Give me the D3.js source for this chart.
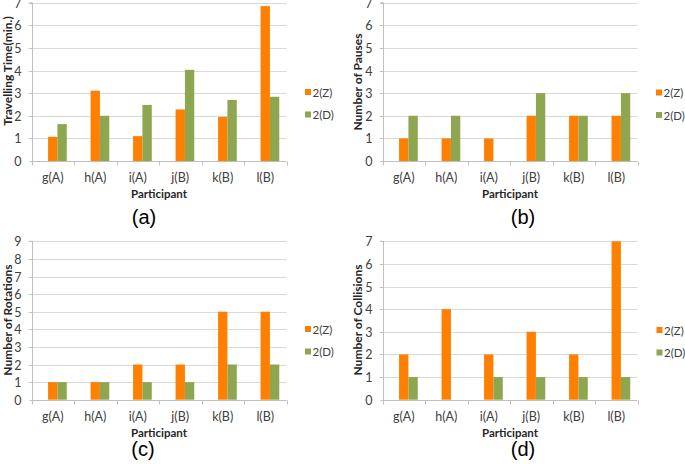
<!DOCTYPE html>
<html>
<head>
<meta charset="utf-8">
<script src="https://cdn.jsdelivr.net/npm/d3@7/dist/d3.min.js"></script>
<style>
  html, body { margin: 0; padding: 0; background: #fff; }
  svg { display: block; }
</style>
</head>
<body>
<svg id="chart" width="685" height="464"></svg>
<script>
// ---------------- DATA ----------------
const participants = ["g(A)", "h(A)", "i(A)", "j(B)", "k(B)", "l(B)"];
const seriesNames = ["2(Z)", "2(D)"];

const travelZ = [1.07, 3.11, 1.10, 2.28, 1.95, 6.85];
const travelD = [1.63, 2.00, 2.48, 4.03, 2.70, 2.84];

const pausesZ = [1, 1, 1, 2, 2, 2];
const pausesD = [2, 2, 0, 3, 2, 3];

const rotationsZ = [1, 1, 2, 2, 5, 5];
const rotationsD = [1, 1, 1, 1, 2, 2];

const collisionsZ = [2, 4, 2, 3, 2, 7];
const collisionsD = [1, 0, 1, 1, 1, 1];

const ticks0to7 = [0, 1, 2, 3, 4, 5, 6, 7];
const ticks0to9 = [0, 1, 2, 3, 4, 5, 6, 7, 8, 9];

const yTitles = ["Travelling Time(min.)", "Number of Pauses", "Number of Rotations", "Number of Collisions"];
const xTitle = "Participant";
const captions = ["(a)", "(b)", "(c)", "(d)"];

// ---------------- LAYOUT ----------------
const colors = { "2(Z)": "#FF8000", "2(D)": "#8DA64F" };

const panels = [
  { z: travelZ, d: travelD, ticks: ticks0to7, ymax: 7, title: yTitles[0], cap: captions[0],
    left: 31.5, right: 286.5, top: 2.7, bottom: 161, titleX: 7, titleY: 71, capX: 144, capY: 224,
    legX: 305, legY: 92 },
  { z: pausesZ, d: pausesD, ticks: ticks0to7, ymax: 7, title: yTitles[1], cap: captions[1],
    left: 382.5, right: 637.5, top: 2.7, bottom: 161, titleX: 357, titleY: 82, capX: 523, capY: 224,
    legX: 656, legY: 92.5 },
  { z: rotationsZ, d: rotationsD, ticks: ticks0to9, ymax: 9, title: yTitles[2], cap: captions[2],
    left: 31.5, right: 286.5, top: 241.3, bottom: 399.7, titleX: 7, titleY: 320, capX: 143, capY: 456,
    legX: 305, legY: 329 },
  { z: collisionsZ, d: collisionsD, ticks: ticks0to7, ymax: 7, title: yTitles[3], cap: captions[3],
    left: 382.5, right: 637.5, top: 241.3, bottom: 399.7, titleX: 357, titleY: 320, capX: 523, capY: 456,
    legX: 656.5, legY: 330 }
];

const svg = d3.select("#chart");
const tickFont = "Lato, 'Open Sans', sans-serif";

panels.forEach(p => {
  const g = svg.append("g");
  const x = d3.scaleBand().domain(participants).range([p.left, p.right]).paddingInner(0).paddingOuter(0);
  const y = d3.scaleLinear().domain([0, p.ymax]).range([p.bottom, p.top]);
  const bw = x.bandwidth();
  const xs = d3.scaleBand().domain(seriesNames).range([0.39 * bw, 0.83 * bw]).padding(0);

  // gridlines (with small outside ticks on the left)
  g.append("g").selectAll("line").data(p.ticks.filter(t => t > 0)).join("line")
    .attr("x1", p.left - 3).attr("x2", p.right)
    .attr("y1", d => Math.round(y(d)) + 0.5).attr("y2", d => Math.round(y(d)) + 0.5)
    .attr("stroke", "#d9d9d9").attr("stroke-width", 1);

  // bars
  const rows = participants.map((name, i) => ({ name, vals: [p.z[i], p.d[i]] }));
  g.append("g").selectAll("g").data(rows).join("g")
    .attr("transform", d => `translate(${x(d.name)},0)`)
    .selectAll("rect").data(d => d.vals.map((v, k) => ({ s: seriesNames[k], v })))
    .join("rect")
    .attr("x", d => xs(d.s)).attr("width", xs.bandwidth())
    .attr("y", d => y(d.v)).attr("height", d => y(0) - y(d.v))
    .attr("fill", d => colors[d.s]);

  // y axis
  const yAxis = d3.axisLeft(y).tickValues(p.ticks).tickSize(3).tickPadding(8).tickFormat(d3.format("d"));
  const ya = g.append("g").attr("transform", `translate(${Math.round(p.left) + 0.5},0)`).call(yAxis);
  ya.select(".domain").attr("stroke", "#bfbfbf").attr("d", `M-3,${p.top}H0V${Math.round(p.bottom) + 0.5}`);
  ya.selectAll(".tick line").attr("stroke", "#bfbfbf");
  ya.selectAll(".tick text").attr("font-family", tickFont).attr("font-size", 12.5).attr("fill", "#404040");
  ya.selectAll(".tick").attr("transform", d => `translate(0,${Math.round(y(d)) + 0.5})`);

  // x axis
  const xa = g.append("g").attr("transform", `translate(0,${Math.round(p.bottom) + 0.5})`);
  const bounds = participants.map(n => x(n)).concat([p.right]);
  xa.append("line").attr("x1", p.left).attr("x2", p.right).attr("stroke", "#bfbfbf");
  xa.selectAll("line.tk").data(bounds).join("line").attr("class", "tk")
    .attr("x1", d => Math.round(d) + 0.5).attr("x2", d => Math.round(d) + 0.5)
    .attr("y1", 0).attr("y2", 4).attr("stroke", "#bfbfbf");
  xa.selectAll("text").data(participants).join("text")
    .attr("x", d => x(d) + bw / 2).attr("y", 20.5)
    .attr("text-anchor", "middle")
    .attr("font-family", tickFont).attr("font-size", 12.5).attr("fill", "#404040")
    .text(d => d);

  // x title
  g.append("text").attr("x", (p.left + p.right) / 2).attr("y", p.bottom + 37)
    .attr("text-anchor", "middle").attr("font-family", tickFont).attr("font-weight", "bold")
    .attr("font-size", 11.5).attr("fill", "#262626").text(xTitle);

  // y title
  g.append("text").attr("transform", `translate(${p.titleX},${p.titleY}) rotate(-90)`)
    .attr("text-anchor", "middle").attr("dominant-baseline", "central")
    .attr("font-family", tickFont).attr("font-weight", "bold")
    .attr("font-size", 12).attr("fill", "#262626").text(p.title);

  // legend
  const lg = g.append("g").attr("transform", `translate(${p.legX},${p.legY})`);
  const ly = d3.scalePoint().domain(seriesNames).range([0, 22.5]);
  const li = lg.selectAll("g").data(seriesNames).join("g")
    .attr("transform", d => `translate(0,${ly(d)})`);
  li.append("rect").attr("x", 0).attr("y", -3).attr("width", 6).attr("height", 6)
    .attr("fill", d => colors[d]);
  li.append("text").attr("x", 7.5).attr("y", 0).attr("dominant-baseline", "central")
    .attr("font-family", tickFont).attr("font-size", 11.5).attr("fill", "#404040").text(d => d);

  // caption
  g.append("text").attr("x", p.capX).attr("y", p.capY).attr("text-anchor", "middle")
    .attr("font-family", "'Liberation Sans', Arial, sans-serif").attr("font-size", 20)
    .attr("fill", "#000").text(p.cap);
});
</script>
</body>
</html>
